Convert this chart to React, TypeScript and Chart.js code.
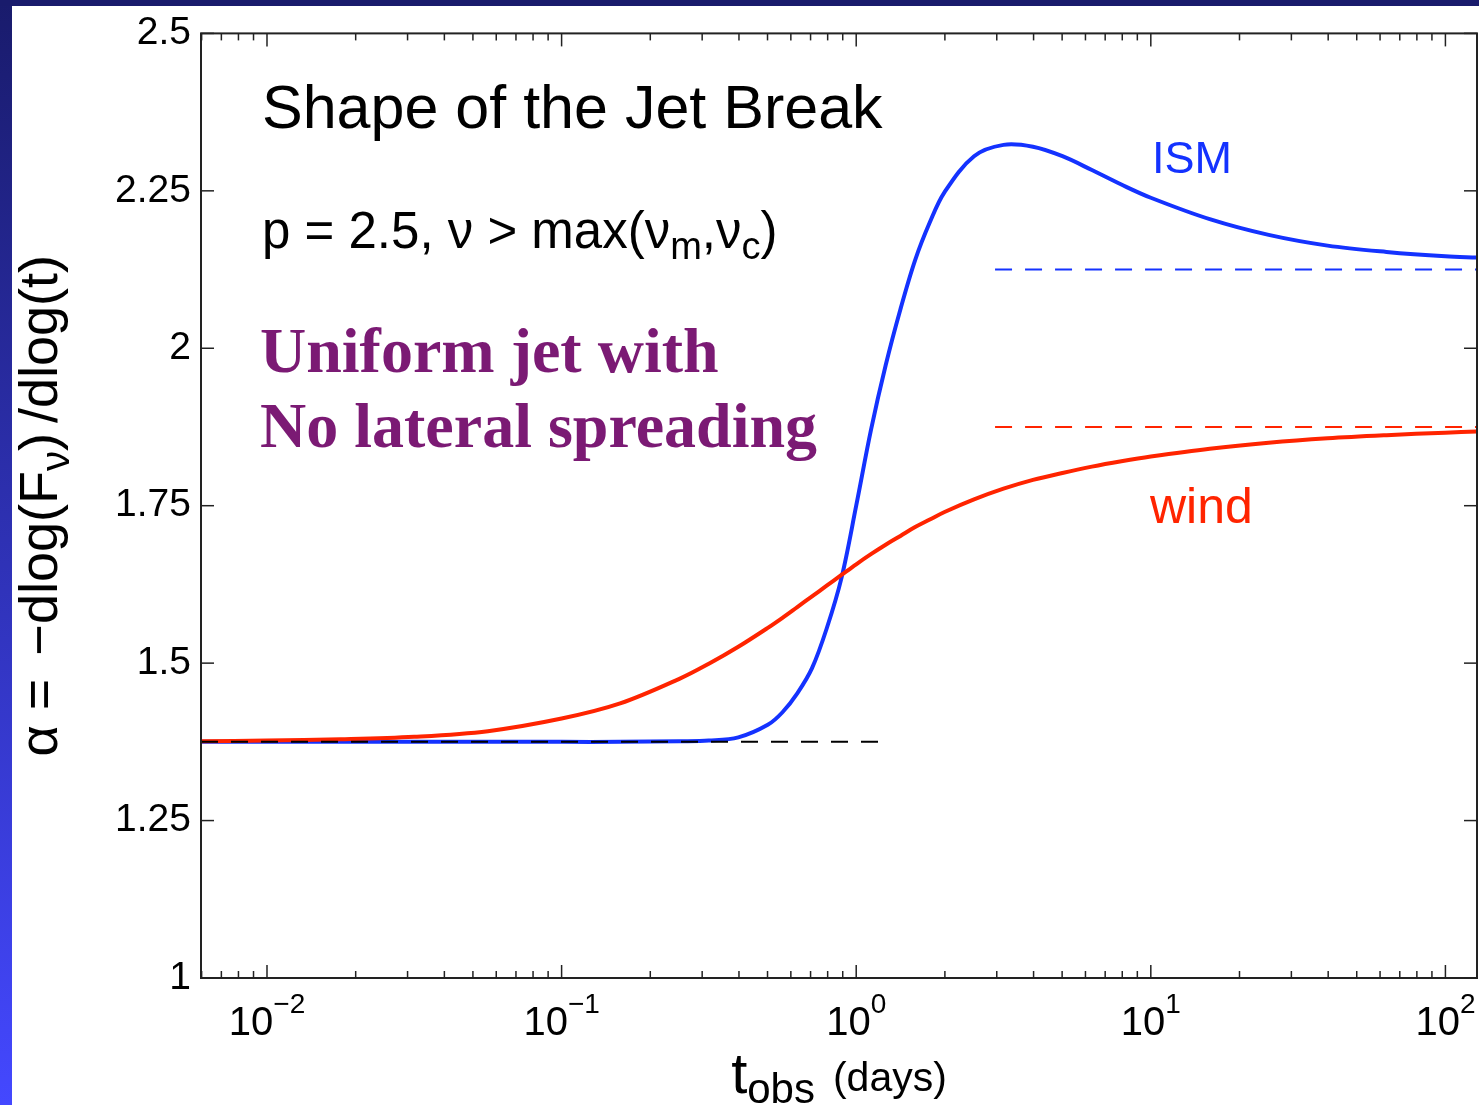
import React, { useEffect, useRef } from "react";
import { Chart, registerables } from "chart.js";

Chart.register(...registerables);

// observer time (days) at which the curves were read
const tDays = [
  0.00597, 0.01, 0.0178, 0.0316, 0.0562, 0.1, 0.158, 0.251, 0.316, 0.398,
  0.501, 0.562, 0.631, 0.708, 0.794, 0.891, 1, 1.122, 1.259, 1.413, 1.585,
  1.778, 1.995, 2.512, 3.162, 3.981, 5.012, 6.31, 7.943, 10, 15.85,
  25.12, 39.81, 63.1, 100, 128,
];

// temporal index alpha, ISM medium
const alphaIsm = [
  1.375, 1.375, 1.375, 1.375, 1.375, 1.375, 1.375, 1.376, 1.377, 1.382,
  1.402, 1.422, 1.452, 1.492, 1.555, 1.635, 1.75, 1.87, 1.973, 2.062, 2.14,
  2.2, 2.248, 2.305, 2.323, 2.32, 2.305, 2.283, 2.26, 2.239, 2.205,
  2.18, 2.163, 2.153, 2.146, 2.144,
];

// temporal index alpha, wind medium
const alphaWind = [
  1.376, 1.377, 1.379, 1.383, 1.392, 1.412, 1.436, 1.475, 1.499, 1.526,
  1.556, 1.572, 1.589, 1.606, 1.623, 1.64, 1.657, 1.673, 1.688, 1.702, 1.716,
  1.728, 1.74, 1.76, 1.777, 1.791, 1.802, 1.812, 1.8205, 1.828, 1.8405,
  1.85, 1.857, 1.862, 1.866, 1.868,
];

// asymptotes
const preBreakT = [0.00597, 1.2];
const preBreakAlpha = [1.375, 1.375];
const postBreakT = [2.96, 128];
const ismPostAlpha = [2.125, 2.125];
const windPostAlpha = [1.875, 1.875];

// axes
const xMin = 0.00597;
const xMax = 128;
const yMin = 1;
const yMax = 2.5;
const yTicks = [1, 1.25, 1.5, 1.75, 2, 2.25, 2.5];
const xDecades = [0.001, 0.01, 0.1, 1, 10, 100];
const xLabelDecades = [0.01, 0.1, 1, 10, 100];
const xLabelExponents = ["\u22122", "\u22121", "0", "1", "2"];
const minorMantissas = [2, 3, 4, 5, 6, 7, 8, 9];

const BLUE = "#1432ff";
const RED = "#ff2400";
const PURPLE = "#7b1a74";
const SANS = "'Liberation Sans', Arial, Helvetica, sans-serif";
const SERIF = "'Liberation Serif', 'Times New Roman', serif";

type Seg = { text: string; size: number; dy?: number; gap?: number };

function drawRich(
  ctx: CanvasRenderingContext2D,
  segs: Seg[],
  x: number,
  y: number,
  align: "left" | "center",
  family: string,
  weight: string,
  color: string
) {
  ctx.textAlign = "left";
  ctx.textBaseline = "alphabetic";
  const widths = segs.map((s) => {
    ctx.font = `${weight} ${s.size}px ${family}`;
    return ctx.measureText(s.text).width;
  });
  const total = widths.reduce((acc, w, i) => acc + w + (segs[i].gap || 0), 0);
  let cx = align === "center" ? x - total / 2 : x;
  segs.forEach((s, i) => {
    cx += s.gap || 0;
    ctx.font = `${weight} ${s.size}px ${family}`;
    ctx.fillStyle = color;
    ctx.fillText(s.text, cx, y + (s.dy || 0));
    cx += widths[i];
  });
}

const decor = {
  id: "decor",
  beforeDraw(chart: any) {
    const { ctx, width, height } = chart;
    ctx.save();
    ctx.fillStyle = "#ffffff";
    ctx.fillRect(0, 0, width, height);
    const g = ctx.createLinearGradient(0, 0, 0, height);
    g.addColorStop(0, "#191b6c");
    g.addColorStop(1, "#4448ff");
    ctx.fillStyle = g;
    ctx.fillRect(0, 0, 12, height);
    ctx.fillStyle = "#191b6c";
    ctx.fillRect(0, 0, width, 6);
    ctx.restore();
  },
  afterDraw(chart: any) {
    const { ctx, chartArea: a } = chart;
    const xs = chart.scales.x;
    const ys = chart.scales.y;
    ctx.save();

    // box
    ctx.strokeStyle = "#222";
    ctx.lineWidth = 2;
    ctx.strokeRect(a.left, a.top, a.right - a.left, a.bottom - a.top);

    const line = (x1: number, y1: number, x2: number, y2: number) => {
      ctx.beginPath();
      ctx.moveTo(x1, y1);
      ctx.lineTo(x2, y2);
      ctx.stroke();
    };
    ctx.lineWidth = 1.5;
    // y ticks (inward, both sides)
    yTicks.forEach((v) => {
      const py = ys.getPixelForValue(v);
      line(a.left, py, a.left + 13, py);
      line(a.right, py, a.right - 13, py);
    });
    // x ticks (inward, top and bottom)
    xDecades.forEach((d) => {
      [1, ...minorMantissas].forEach((m) => {
        const v = m * d;
        if (v < xMin || v > xMax) return;
        const px = xs.getPixelForValue(v);
        const len = m === 1 ? 13 : 7;
        line(px, a.bottom, px, a.bottom - len);
        line(px, a.top, px, a.top + len);
      });
    });

    // x tick labels 10^n
    xLabelDecades.forEach((d, i) => {
      const px = xs.getPixelForValue(d);
      drawRich(
        ctx,
        [
          { text: "10", size: 40 },
          { text: xLabelExponents[i], size: 28, dy: -22 },
        ],
        px,
        a.bottom + 57,
        "center",
        SANS,
        "normal",
        "#000"
      );
    });

    // x title
    drawRich(
      ctx,
      [
        { text: "t", size: 58 },
        { text: "obs", size: 42, dy: 10 },
        { text: "(days)", size: 41, dy: -2, gap: 18 },
      ],
      (a.left + a.right) / 2,
      1093,
      "center",
      SANS,
      "normal",
      "#000"
    );

    // y title (rotated)
    ctx.save();
    ctx.translate(57, (a.top + a.bottom) / 2);
    ctx.rotate(-Math.PI / 2);
    drawRich(
      ctx,
      [
        { text: "\u03b1 = ", size: 54 },
        { text: "\u2212dlog(F", size: 54, gap: 8 },
        { text: "\u03bd", size: 40, dy: 12 },
        { text: ")", size: 54 },
        { text: "/dlog(t)", size: 54, gap: 10 },
      ],
      0,
      0,
      "center",
      SANS,
      "normal",
      "#000"
    );
    ctx.restore();

    // annotations
    drawRich(ctx, [{ text: "Shape of the Jet Break", size: 61 }], 262, 128, "left", SANS, "normal", "#000");
    drawRich(
      ctx,
      [
        { text: "p = 2.5, \u03bd > max(\u03bd", size: 51 },
        { text: "m", size: 38, dy: 11 },
        { text: ",\u03bd", size: 51 },
        { text: "c", size: 38, dy: 11 },
        { text: ")", size: 51 },
      ],
      262,
      248,
      "left",
      SANS,
      "normal",
      "#000"
    );
    drawRich(ctx, [{ text: "Uniform jet with", size: 64 }], 260, 372, "left", SERIF, "bold", PURPLE);
    drawRich(ctx, [{ text: "No lateral spreading", size: 64 }], 260, 447, "left", SERIF, "bold", PURPLE);
    drawRich(ctx, [{ text: "ISM", size: 45 }], 1152, 173, "left", SANS, "normal", BLUE);
    drawRich(ctx, [{ text: "wind", size: 50 }], 1150, 523, "left", SANS, "normal", RED);

    ctx.restore();
  },
};

export default function App() {
  const ref = useRef<HTMLCanvasElement>(null);

  useEffect(() => {
    const canvas = ref.current;
    if (!canvas) return;
    const pts = (xs: number[], ys: number[]) => xs.map((x, i) => ({ x, y: ys[i] }));
    const chart = new Chart(canvas, {
      type: "line",
      data: {
        datasets: [
          {
            label: "pre-break",
            data: pts(preBreakT, preBreakAlpha),
            borderColor: "#000",
            borderWidth: 2,
            borderDash: [17, 13],
            pointRadius: 0,
            order: 0,
          },
          {
            label: "ISM asymptote",
            data: pts(postBreakT, ismPostAlpha),
            borderColor: BLUE,
            borderWidth: 2,
            borderDash: [17, 13],
            pointRadius: 0,
            order: 1,
          },
          {
            label: "wind asymptote",
            data: pts(postBreakT, windPostAlpha),
            borderColor: RED,
            borderWidth: 2,
            borderDash: [17, 13],
            pointRadius: 0,
            order: 2,
          },
          {
            label: "wind",
            data: pts(tDays, alphaWind),
            borderColor: RED,
            borderWidth: 4,
            pointRadius: 0,
            tension: 0.35,
            order: 3,
          },
          {
            label: "ISM",
            data: pts(tDays, alphaIsm),
            borderColor: BLUE,
            borderWidth: 4,
            pointRadius: 0,
            tension: 0.35,
            order: 4,
          },
        ],
      },
      options: {
        responsive: false,
        animation: false,
        devicePixelRatio: 1,
        layout: { padding: { top: 32, right: 2, left: 0, bottom: 0 } },
        plugins: { legend: { display: false }, tooltip: { enabled: false } },
        events: [],
        scales: {
          x: {
            type: "logarithmic",
            min: xMin,
            max: xMax,
            ticks: { display: false },
            grid: { display: false, drawTicks: false },
            border: { display: false },
            afterFit: (scale: any) => {
              scale.height = 127;
            },
          },
          y: {
            type: "linear",
            min: yMin,
            max: yMax,
            afterBuildTicks: (scale: any) => {
              scale.ticks = yTicks.map((v) => ({ value: v }));
            },
            ticks: {
              callback: (v: any) => String(v),
              font: { family: SANS, size: 39 },
              color: "#000",
              padding: 10,
            },
            grid: { display: false, drawTicks: false },
            border: { display: false },
            afterFit: (scale: any) => {
              scale.width = 201;
            },
          },
        },
      } as any,
      plugins: [decor],
    });
    return () => chart.destroy();
  }, []);

  return (
    <div style={{ position: "fixed", left: 0, top: 0, width: 1479, height: 1105, background: "#fff" }}>
      <canvas ref={ref} width={1479} height={1105} style={{ display: "block", width: 1479, height: 1105 }} />
    </div>
  );
}
